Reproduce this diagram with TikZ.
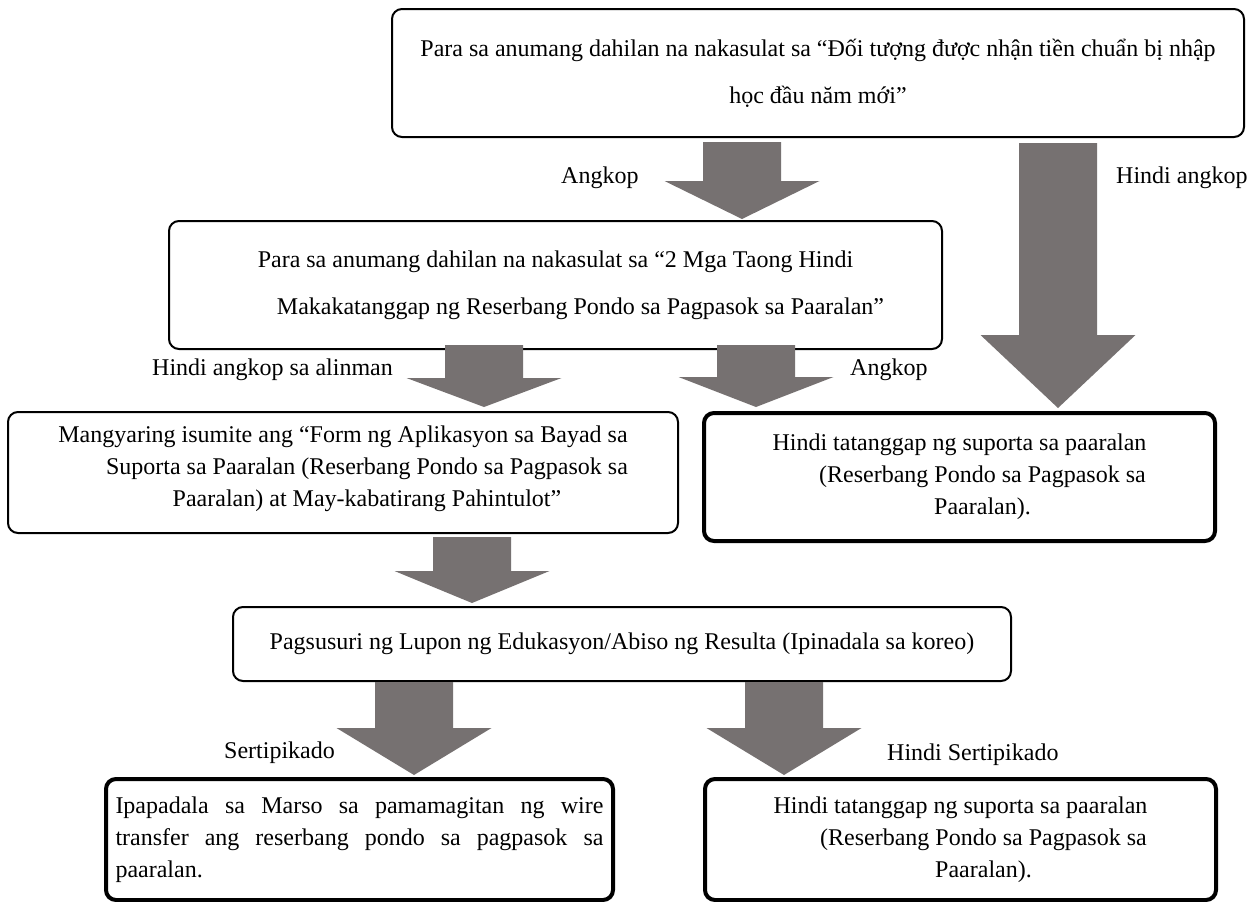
\documentclass[tikz,border=0pt]{standalone}
\usepackage{fontspec}
\setmainfont{Liberation Serif}
\definecolor{arrowgray}{HTML}{767171}
\newcommand{\blockarrow}[4]{%
  \fill[arrowgray] (#1-39,#2) -- (#1+39,#2) -- (#1+39,#3) -- (#1+77.5,#3) -- (#1,#4)
    -- (#1-77.5,#3) -- (#1-39,#3) -- cycle;}
\newcommand{\fullline}[1]{{\spaceskip=0pt\xspaceskip=0pt\makebox[488pt][s]{#1}}}
\begin{document}
\begin{tikzpicture}[x=1pt,y=-1pt,
  box/.style={draw=black, line width=2pt, rounded corners=10pt, inner sep=0pt,
    anchor=north west, align=center, font=\fontsize{24}{32}\selectfont},
  widebox/.style={box, font=\fontsize{24}{47}\selectfont},
  thickbox/.style={box, line width=4pt},
  lbl/.style={anchor=base west, inner sep=0pt, font=\fontsize{24}{28}\selectfont}]
\fill[white] (0,0) rectangle (1251,902);
\useasboundingbox (0,0) rectangle (1251,902);

% boxes
\node[widebox, minimum width=852pt, minimum height=128pt] (b1) at (391,8)
  {Para sa anumang dahilan na nakasulat sa “Đối tượng được nhận tiền chuẩn bị nhập\\học đầu năm mới”};
\node[widebox, minimum width=773pt, minimum height=128pt] (b2) at (168,220)
  {Para sa anumang dahilan na nakasulat sa “2 Mga Taong Hindi\\\hspace*{50pt}Makakatanggap ng Reserbang Pondo sa Pagpasok sa Paaralan”};
\node[box, minimum width=670pt, minimum height=121pt, text depth=12pt] (b3) at (7,411)
  {Mangyaring isumite ang “Form ng Aplikasyon sa Bayad sa\\\hspace*{48pt}Suporta sa Paaralan (Reserbang Pondo sa Pagpasok sa\\\hspace*{48pt}Paaralan) at May-kabatirang Pahintulot”};
\node[thickbox, minimum width=511pt, minimum height=128pt] (b4) at (702,411)
  {Hindi tatanggap ng suporta sa paaralan\\\hspace*{46pt}(Reserbang Pondo sa Pagpasok sa\\\hspace*{46pt}Paaralan).};
\node[box, minimum width=778pt, minimum height=74pt] (b5) at (232,606)
  {Pagsusuri ng Lupon ng Edukasyon/Abiso ng Resulta (Ipinadala sa koreo)};
\node[thickbox, minimum width=507pt, minimum height=121pt, align=justify, text width=488pt] (b6) at (104,777)
  {\fullline{Ipapadala sa Marso sa pamamagitan ng wire}\\\fullline{transfer ang reserbang pondo sa pagpasok sa}\\paaralan.};
\node[thickbox, minimum width=511pt, minimum height=121pt] (b7) at (703,777)
  {Hindi tatanggap ng suporta sa paaralan\\\hspace*{46pt}(Reserbang Pondo sa Pagpasok sa\\\hspace*{46pt}Paaralan).};

% block arrows
\blockarrow{742}{142}{181}{219}
\blockarrow{1058}{143}{335}{408}
\blockarrow{484}{345}{378}{407}
\blockarrow{756}{345}{377}{407}
\blockarrow{472}{537}{571}{603}
\blockarrow{414}{682}{728}{775}
\blockarrow{784}{682}{728}{775}

% labels
\node[lbl] (l1) at (561,183) {Angkop};
\node[lbl] (l2) at (1116,183) {Hindi angkop};
\node[lbl] (l3) at (152,375) {Hindi angkop sa alinman};
\node[lbl] (l4) at (850,375) {Angkop};
\node[lbl] (l5) at (224,758) {Sertipikado};
\node[lbl] (l6) at (887,760) {Hindi Sertipikado};
\end{tikzpicture}
\end{document}
